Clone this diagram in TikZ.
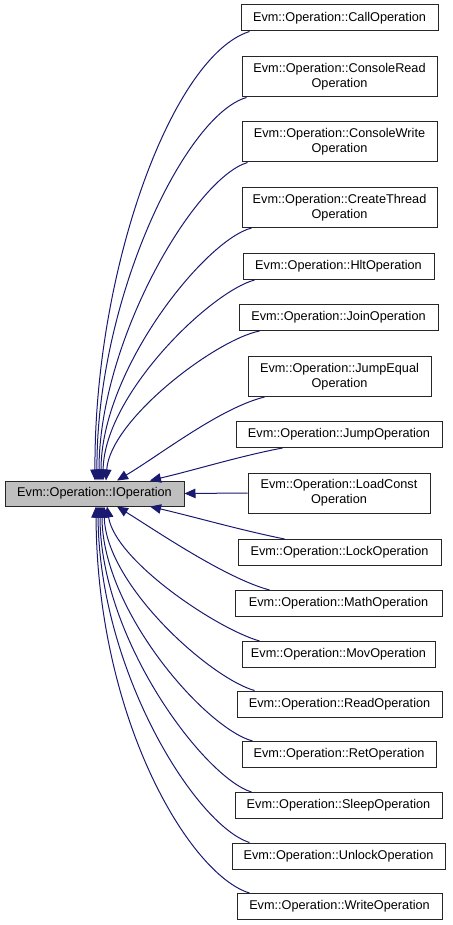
\documentclass[tikz,border=0pt]{standalone}
\usepackage{fontspec}
\setmainfont{Liberation Sans}
\usetikzlibrary{arrows.meta}
\definecolor{edgeblue}{HTML}{191970}
\definecolor{mainfill}{HTML}{BFBFBF}
\begin{document}
\begin{tikzpicture}[x=1pt,y=-1pt,
  cls/.style={draw=black!85, line width=1pt, fill=white, rectangle, inner sep=0pt, align=center,
    font=\fontsize{12.7}{15}\selectfont, minimum height=26pt},
  cls2/.style={cls, minimum height=40pt},
  inh/.style={draw=edgeblue, line width=1pt, -{Triangle[length=11pt,width=9.5pt]}, fill=none}]
\useasboundingbox (0,0) rectangle (452,925);
\node[cls, fill=mainfill, minimum width=179pt, minimum height=25pt] (main) at (94.5,493.5) {Evm::Operation::IOperation};
\node[cls, minimum width=197pt] (call) at (339.5,18) {Evm::Operation::CallOperation};
\node[cls2, minimum width=195pt] (cread) at (339.5,77) {Evm::Operation::ConsoleRead\\Operation};
\node[cls2, minimum width=195pt] (cwrite) at (339.5,142) {Evm::Operation::ConsoleWrite\\Operation};
\node[cls2, minimum width=195pt] (cthread) at (339.5,207.5) {Evm::Operation::CreateThread\\Operation};
\node[cls, minimum width=191pt] (hlt) at (338.5,266.5) {Evm::Operation::HltOperation};
\node[cls, minimum width=199pt] (join) at (338.5,317.5) {Evm::Operation::JoinOperation};
\node[cls2, minimum width=183pt] (jeq) at (339.5,376.5) {Evm::Operation::JumpEqual\\Operation};
\node[cls, minimum width=206pt] (jmp) at (339,434.5) {Evm::Operation::JumpOperation};
\node[cls2, minimum width=182pt] (lconst) at (339,493) {Evm::Operation::LoadConst\\Operation};
\node[cls, minimum width=203pt] (lock) at (339.5,552.5) {Evm::Operation::LockOperation};
\node[cls, minimum width=207pt] (math) at (338.5,603.5) {Evm::Operation::MathOperation};
\node[cls, minimum width=193pt] (mov) at (338.5,654.5) {Evm::Operation::MovOperation};
\node[cls, minimum width=205pt] (read) at (339.5,704) {Evm::Operation::ReadOperation};
\node[cls, minimum width=194pt] (ret) at (339,754.5) {Evm::Operation::RetOperation};
\node[cls, minimum width=207pt] (sleep) at (338.5,805.5) {Evm::Operation::SleepOperation};
\node[cls, minimum width=213pt] (unlock) at (338.5,856) {Evm::Operation::UnlockOperation};
\node[cls, minimum width=205pt] (write) at (339.5,906.5) {Evm::Operation::WriteOperation};
% top edges
\draw[inh] ([xshift=9pt]call.south west) .. controls (172,56) and (94,270) .. ([xshift=0.5pt]main.north);
\draw[inh] ([xshift=5pt]cread.south west) .. controls (185,115) and (96,300) .. ([xshift=2.5pt]main.north);
\draw[inh] ([xshift=6pt]cwrite.south west) .. controls (195,178) and (99,340) .. ([xshift=4.5pt]main.north);
\draw[inh] ([xshift=10pt]cthread.south west) .. controls (205,240) and (101,370) .. ([xshift=6.5pt]main.north);
\draw[inh] ([xshift=12pt]hlt.south west) .. controls (210,292) and (104,395) .. ([xshift=8.5pt]main.north);
\draw[inh] ([xshift=21pt]join.south west) .. controls (215,340) and (110,420) .. ([xshift=11.5pt]main.north);
\draw[inh] ([xshift=17pt]jeq.south west) .. controls (220,408) and (160,455) .. ([xshift=22.5pt]main.north);
\draw[inh] ([xshift=47pt]jmp.south west) .. controls (240,456) and (195,470) .. ([xshift=55.5pt]main.north);
\draw[inh] (lconst.west) -- (main.east);
% bottom edges
\draw[inh] ([xshift=47pt]lock.north west) .. controls (240,530) and (195,517) .. ([xshift=55.5pt]main.south);
\draw[inh] ([xshift=35pt]math.north west) .. controls (225,578) and (155,530) .. ([xshift=22.5pt]main.south);
\draw[inh] ([xshift=18pt]mov.north west) .. controls (215,628) and (115,560) .. ([xshift=12.5pt]main.south);
\draw[inh] ([xshift=18pt]read.north west) .. controls (210,678) and (106,585) .. ([xshift=9.5pt]main.south);
\draw[inh] ([xshift=11pt]ret.north west) .. controls (205,728) and (102,610) .. ([xshift=7.5pt]main.south);
\draw[inh] ([xshift=17pt]sleep.north west) .. controls (205,778) and (100,640) .. ([xshift=5.5pt]main.south);
\draw[inh] ([xshift=18pt]unlock.north west) .. controls (195,825) and (99,670) .. ([xshift=3.5pt]main.south);
\draw[inh] ([xshift=13pt]write.north west) .. controls (190,875) and (97,720) .. ([xshift=1.5pt]main.south);
\end{tikzpicture}
\end{document}
